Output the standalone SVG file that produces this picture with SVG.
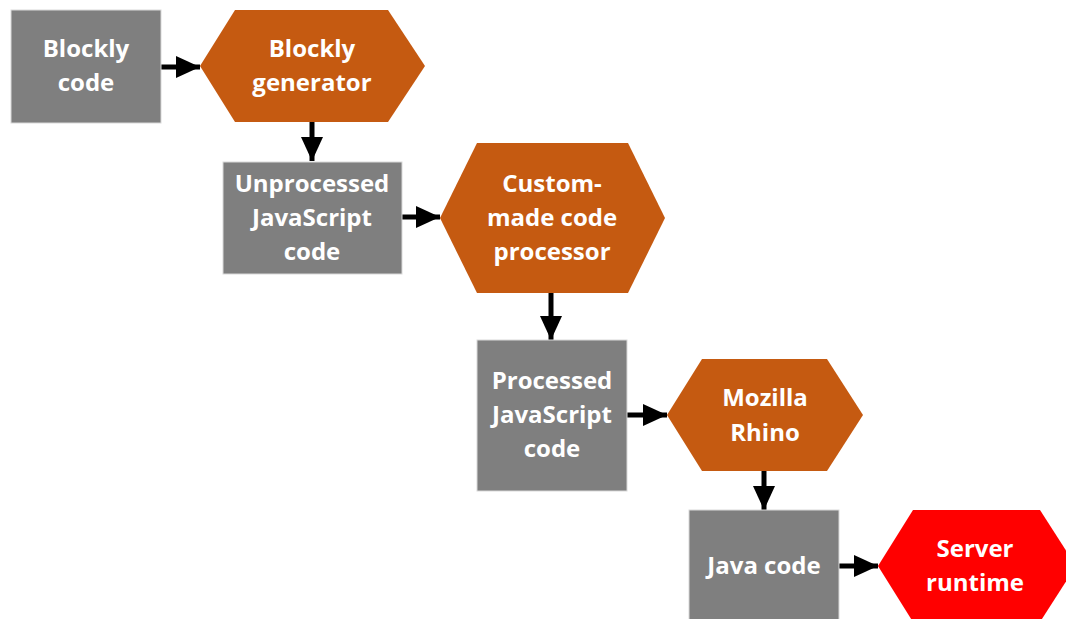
<svg xmlns="http://www.w3.org/2000/svg" width="1066" height="619" viewBox="0 0 1066 619">
<style>
.box{fill:#7f7f7f;stroke:#d9d9d9;stroke-width:1}
.proc{fill:#c55a11}
.srv{fill:#ff0000}
.t{font-family:"Open Sans","Liberation Sans",sans-serif;font-weight:bold;font-size:24px;fill:#ffffff;text-anchor:middle}
.c{stroke:#000;stroke-width:5;fill:none}
</style>
<defs>
<marker id="ah" markerUnits="userSpaceOnUse" markerWidth="26" markerHeight="24" refX="24" refY="12" orient="auto">
<polygon points="0,1 24,12 0,23" fill="#000"/>
</marker>
</defs>
<rect width="1066" height="619" fill="#ffffff"/>
<g id="connectors">
<line class="c" x1="161" y1="67" x2="200" y2="67" marker-end="url(#ah)"/>
<line class="c" x1="312" y1="122" x2="312" y2="161" marker-end="url(#ah)"/>
<line class="c" x1="402" y1="217" x2="440" y2="217" marker-end="url(#ah)"/>
<line class="c" x1="551" y1="293" x2="551" y2="340" marker-end="url(#ah)"/>
<line class="c" x1="627" y1="415" x2="667" y2="415" marker-end="url(#ah)"/>
<line class="c" x1="764" y1="471" x2="764" y2="510" marker-end="url(#ah)"/>
<line class="c" x1="839" y1="566" x2="878" y2="566" marker-end="url(#ah)"/>
</g>
<g id="blockly-code">
<rect class="box" x="11" y="10" width="150" height="113"/>
<text class="t" x="86" y="57">Blockly</text>
<text class="t" x="86" y="91">code</text>
</g>
<g id="blockly-generator">
<polygon class="proc" points="200,66 235,10 388,10 425,66 388,122 235,122"/>
<text class="t" x="312" y="57">Blockly</text>
<text class="t" x="312" y="91">generator</text>
</g>
<g id="unprocessed-js">
<rect class="box" x="223" y="162" width="179" height="112"/>
<text class="t" x="312" y="192">Unprocessed</text>
<text class="t" x="312" y="226">JavaScript</text>
<text class="t" x="312" y="260">code</text>
</g>
<g id="code-processor">
<polygon class="proc" points="440,218 477,143 628,143 665,218 628,293 477,293"/>
<text class="t" x="552" y="192">Custom-</text>
<text class="t" x="552" y="226">made code</text>
<text class="t" x="552" y="260">processor</text>
</g>
<g id="processed-js">
<rect class="box" x="477" y="340" width="150" height="151"/>
<text class="t" x="552" y="389">Processed</text>
<text class="t" x="552" y="423">JavaScript</text>
<text class="t" x="552" y="457">code</text>
</g>
<g id="mozilla-rhino">
<polygon class="proc" points="667,415 702,359 827,359 863,415 827,471 702,471"/>
<text class="t" x="765" y="406">Mozilla</text>
<text class="t" x="765" y="441">Rhino</text>
</g>
<g id="java-code">
<rect class="box" x="689" y="510" width="150" height="115"/>
<text class="t" x="764" y="574">Java code</text>
</g>
<g id="server-runtime">
<polygon class="srv" points="878,566 913,510 1040,510 1076,566 1040,622 913,622"/>
<text class="t" x="975" y="557">Server</text>
<text class="t" x="975" y="591">runtime</text>
</g>
</svg>
